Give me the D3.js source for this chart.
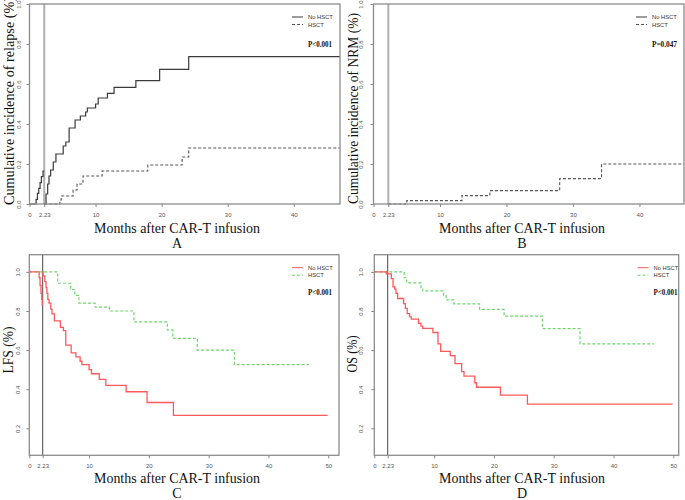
<!DOCTYPE html>
<html><head><meta charset="utf-8">
<script src="https://cdn.jsdelivr.net/npm/d3@7"></script>
<style>body{margin:0;background:#fff}svg{display:block}</style>
</head><body>
<svg id="chart" width="685" height="500"></svg>
<script>
// ---------- data (months, value) ----------
const landmark = 2.23;
const xTicksAB = [0, 2.23, 10, 20, 30, 40];
const xTicksCD = [0, 2.23, 10, 20, 30, 40, 50];
const yTicksAB = [0, 0.2, 0.4, 0.6, 0.8, 1.0];
const yTicksCD = [0.2, 0.4, 0.6, 0.8, 1.0];
const groups = ["No HSCT", "HSCT"];

// A: cumulative incidence of relapse
const relapseNoPre = [[0,0],[1.0,0.023],[1.2,0.053],[1.4,0.078],[1.6,0.107],[1.8,0.137],[2.05,0.165],[2.23,0.165]];
const relapseNoPost = [[2.23,0],[2.5,0.05],[2.75,0.10],[2.95,0.14],[3.2,0.17],[3.6,0.21],[4.0,0.25],[5.1,0.29],[5.5,0.31],[6.0,0.38],[6.9,0.42],[7.7,0.44],[8.5,0.46],[8.75,0.48],[10.0,0.50],[10.4,0.53],[11.8,0.553],[12.8,0.583],[16.1,0.617],[19.7,0.673],[24.1,0.737],[47,0.737]];
const relapseHsct = [[2.23,0],[4.6,0.02],[4.8,0.04],[6.6,0.07],[7.2,0.10],[8.1,0.14],[11.0,0.165],[17.9,0.195],[23.1,0.235],[24.1,0.28],[47,0.28]];
// B: cumulative incidence of NRM
const nrmHsct = [[2.23,0],[5.0,0.017],[13.3,0.042],[17.5,0.067],[28.0,0.127],[34.3,0.20],[46.7,0.20]];
// C: LFS
const lfsNoPre = [[0,1],[1.65,0.97],[1.8,0.93],[1.95,0.89],[2.08,0.86],[2.16,0.83],[2.23,0.83]];
const lfsNoPost = [[2.23,1.0],[2.3,0.98],[2.6,0.95],[2.8,0.92],[2.95,0.89],[3.1,0.86],[3.3,0.84],[3.6,0.81],[3.8,0.785],[4.2,0.75],[5.2,0.716],[5.7,0.70],[6.1,0.626],[7.0,0.586],[7.8,0.565],[8.5,0.543],[8.8,0.526],[10.0,0.50],[10.4,0.479],[11.7,0.45],[12.8,0.42],[16.2,0.387],[19.7,0.332],[24.1,0.266],[49.9,0.266]];
const lfsHsct = [[0,1],[4.75,0.942],[6.9,0.91],[7.6,0.88],[8.3,0.84],[11.0,0.82],[13.4,0.80],[17.5,0.744],[23.1,0.703],[24.0,0.66],[28.1,0.60],[34.3,0.526],[46.8,0.526]];
// D: OS
const osNoPre = [[0,1],[2.0,0.99],[2.23,0.99]];
const osNoPost = [[2.23,0.99],[2.85,0.966],[3.13,0.924],[3.41,0.912],[3.63,0.89],[3.9,0.864],[4.9,0.838],[5.2,0.813],[5.5,0.787],[5.9,0.77],[6.2,0.759],[7.4,0.737],[7.8,0.723],[8.1,0.711],[9.8,0.69],[10.65,0.632],[11.1,0.594],[12.7,0.572],[13.5,0.531],[14.6,0.49],[15.0,0.467],[16.8,0.433],[17.1,0.41],[21.1,0.37],[25.6,0.324],[49.9,0.324]];
const osHsct = [[0,1],[5.0,0.97],[5.4,0.944],[7.8,0.92],[8.1,0.903],[11.6,0.88],[12.0,0.857],[13.3,0.837],[17.6,0.808],[21.7,0.774],[28.1,0.71],[34.4,0.632],[46.8,0.632]];

// ---------- drawing ----------
const svg = d3.select("#chart");
svg.append("rect").attr("width",685).attr("height",500).attr("fill","#fff");
const serif = "'Liberation Serif','Times New Roman',serif";
const sans = "'Liberation Sans',Arial,sans-serif";

function panel(c){
  const x = d3.scaleLinear().domain([0, c.xmax]).range([c.x0, c.x1]);
  const y = d3.scaleLinear().domain(c.ydom).range([c.yb, c.yt]);
  const g = svg.append("g");
  const fx = x.range(), fy = y.range();
  // x axis
  const xa = g.append("g").attr("transform",`translate(0,${c.yb})`)
    .call(d3.axisBottom(x).tickValues(c.xticks).tickFormat(d=> d===landmark ? "2.23" : d3.format("d")(d)).tickSize(3).tickPadding(c.xpad));
  xa.select(".domain").remove();
  xa.selectAll("line").attr("stroke","#888");
  xa.selectAll("text").attr("font-size",6).attr("font-family",sans).attr("fill","#555");
  // y axis
  const ya = g.append("g").attr("transform",`translate(${c.x0},0)`)
    .call(d3.axisLeft(y).tickValues(c.yticks).tickFormat(d3.format(".1f")).tickSize(3));
  ya.select(".domain").remove();
  ya.selectAll("line").attr("stroke","#888");
  ya.selectAll("text").attr("font-size",6).attr("font-family",sans).attr("fill","#555")
    .attr("transform","rotate(-90)").attr("x",0).attr("y",c.ylabOff).attr("dy",0).attr("text-anchor","middle");
  // landmark line
  g.append("line").attr("x1",x(landmark)).attr("x2",x(landmark)).attr("y1",fy[0]).attr("y2",fy[1])
    .attr("stroke",c.lmColor).attr("stroke-width",c.lmWidth);
  // curves
  const line = d3.line().x(d=>x(d[0])).y(d=>y(d[1])).curve(d3.curveStepAfter);
  c.series.forEach(s=>{
    g.append("path").datum(s.data).attr("d",line).attr("fill","none")
      .attr("stroke",s.color).attr("stroke-width",s.width).attr("stroke-dasharray",s.dash||null);
  });
  // frame
  g.append("rect").attr("x",fx[0]).attr("y",fy[1]).attr("width",fx[1]-fx[0]).attr("height",fy[0]-fy[1])
    .attr("fill","none").attr("stroke","#8c8c8c").attr("stroke-width",1.3);
  // legend
  c.legend.forEach((l,i)=>{
    const ly = c.legY + i*7.5;
    g.append("line").attr("x1",c.legX).attr("x2",c.legX+11).attr("y1",ly).attr("y2",ly)
      .attr("stroke",l.color).attr("stroke-width",1).attr("stroke-dasharray",l.dash||null);
    g.append("text").attr("x",c.legX+16).attr("y",ly+2).attr("font-size",5.8).attr("font-family",sans).attr("fill","#333").text(l.label);
  });
  g.append("text").attr("x",c.legX+16).attr("y",c.pY).attr("font-size",7.5).attr("font-weight","bold")
    .attr("font-family",serif).attr("fill","#111").attr("textLength",c.pLen).attr("lengthAdjust","spacingAndGlyphs").text(c.pText);
  // titles
  g.append("text").attr("x",c.xtX).attr("y",c.xtY).attr("text-anchor","middle").attr("font-size",15)
    .attr("font-family",serif).attr("fill","#111").attr("textLength",166).attr("lengthAdjust","spacingAndGlyphs")
    .text("Months after CAR-T infusion");
  g.append("text").attr("transform",`translate(${c.ytX},${c.ytY}) rotate(-90)`).attr("text-anchor","middle")
    .attr("font-size",14).attr("font-family",serif).attr("fill","#111")
    .attr("textLength",c.ytLen).attr("lengthAdjust","spacingAndGlyphs").text(c.ytText);
  g.append("text").attr("x",c.xtX).attr("y",c.letY).attr("text-anchor","middle").attr("font-size",14)
    .attr("font-family",serif).attr("fill","#111").text(c.letter);
}

const black = "#3a3a3a", grayDash = "#555", red = "#ff5a5a", green = "#6cd66c";

panel({x0:29.5,x1:340,xmax:47.0,yb:204,yt:4,ydom:[0,1],xticks:xTicksAB,yticks:yTicksAB,xpad:5.5,ylabOff:-9,
  lmColor:"#b0b0b0",lmWidth:2,
  series:[{data:relapseNoPre,color:black,width:1.2},{data:relapseNoPost,color:black,width:1.2},
          {data:relapseHsct,color:grayDash,width:1.1,dash:"3,2"}],
  legend:[{label:groups[0],color:black},{label:groups[1],color:grayDash,dash:"3,2"}],
  legX:292,legY:17,pY:46.5,pText:"P<0.001",pLen:24,
  xtX:177,xtY:232.5,ytX:14,ytY:101,ytLen:208,ytText:"Cumulative incidence of relapse (%)",letY:248,letter:"A"});

panel({x0:373.5,x1:684,xmax:46.7,yb:204,yt:4,ydom:[0,1],xticks:xTicksAB,yticks:yTicksAB,xpad:5.5,ylabOff:-11,
  lmColor:"#b0b0b0",lmWidth:2,
  series:[{data:nrmHsct,color:grayDash,width:1.1,dash:"3,2"}],
  legend:[{label:groups[0],color:black},{label:groups[1],color:grayDash,dash:"3,2"}],
  legX:636,legY:17,pY:46.5,pText:"P=0.047",pLen:25,
  xtX:522,xtY:232.5,ytX:357.5,ytY:108.5,ytLen:191,ytText:"Cumulative incidence of NRM (%)",letY:248,letter:"B"});

panel({x0:29.3,x1:339,xmax:51.8,yb:455.3,yt:254.7,ydom:[0.062,1.088],xticks:xTicksCD,yticks:yTicksCD,xpad:5,ylabOff:-9,
  lmColor:"#666",lmWidth:1.2,
  series:[{data:lfsHsct,color:green,width:1.2,dash:"3,2"},{data:lfsNoPre,color:red,width:1.3},{data:lfsNoPost,color:red,width:1.3}],
  legend:[{label:groups[0],color:red},{label:groups[1],color:green,dash:"3,2"}],
  legX:292,legY:267.7,pY:295.2,pText:"P<0.001",pLen:24,
  xtX:177,xtY:482.5,ytX:13,ytY:350,ytLen:47,ytText:"LFS (%)",letY:497.5,letter:"C"});

panel({x0:374.3,x1:678.7,xmax:50.9,yb:455.3,yt:254.7,ydom:[0.062,1.088],xticks:xTicksCD,yticks:yTicksCD,xpad:5,ylabOff:-11,
  lmColor:"#666",lmWidth:1.2,
  series:[{data:osHsct,color:green,width:1.2,dash:"3,2"},{data:osNoPre,color:red,width:1.3},{data:osNoPost,color:red,width:1.3}],
  legend:[{label:groups[0],color:red},{label:groups[1],color:green,dash:"3,2"}],
  legX:637.5,legY:267.7,pY:295.2,pText:"P<0.001",pLen:24,
  xtX:522,xtY:482.5,ytX:357,ytY:354,ytLen:37,ytText:"OS (%)",letY:497.5,letter:"D"});
</script>
</body></html>
